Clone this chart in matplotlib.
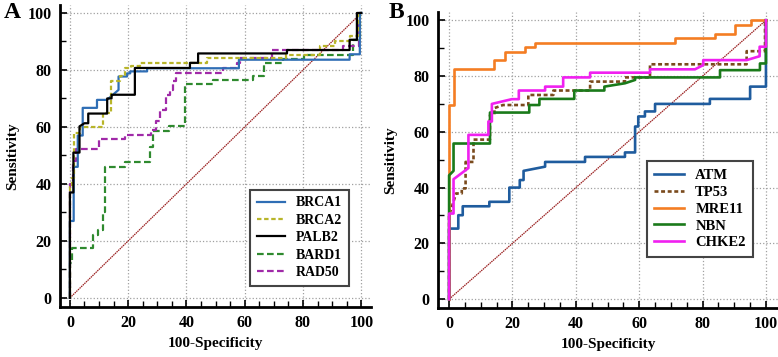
import matplotlib
matplotlib.use("Agg")
import matplotlib.pyplot as plt
from matplotlib.ticker import MultipleLocator

plt.rcParams['font.family'] = ['Liberation Serif', 'DejaVu Serif']
plt.rcParams['font.weight'] = 'bold'

# ---------- Panel A data (100-Specificity, Sensitivity) ----------
brca1_x = [0, 0, 1.3, 1.3, 2.7, 2.7, 4.4, 4.4, 9.3, 9.3, 12.7, 16.7, 16.7, 19.6, 19.6, 20.7, 20.7, 26.5, 26.5, 58, 58, 96, 96, 99.5, 99.5, 100]
brca1_y = [0, 27, 27, 46, 46, 57, 57, 66.7, 66.7, 69.5, 69.5, 73, 77.7, 77.7, 78.8, 78.8, 79.5, 79.5, 80.6, 80.6, 83.6, 83.6, 85.5, 85.5, 100, 100]

brca2_x = [0, 0, 0.6, 0.6, 1.5, 1.5, 3.3, 3.3, 11.2, 11.2, 14, 14, 17.2, 17.2, 18.8, 18.8, 21, 21, 24, 24, 47, 47, 74, 74, 86, 86, 91, 91, 96, 96, 99, 99, 100]
brca2_y = [0, 39, 39, 42, 42, 58, 58, 60, 60, 65, 65, 76.3, 76.3, 78, 78, 80.6, 80.6, 81.5, 81.5, 82.5, 82.5, 84.2, 84.2, 85.3, 85.3, 88.4, 88.4, 90, 90, 92, 92, 100, 100]

palb2_x = [0, 0, 1.2, 1.2, 3.3, 3.3, 5, 6.3, 6.3, 12.8, 12.8, 14.3, 14.3, 22.3, 22.3, 41.2, 41.2, 44, 44, 74.5, 74.5, 96, 96, 98.5, 98.5, 100]
palb2_y = [0, 37, 37, 51, 51, 60.2, 61.3, 61.3, 64.7, 64.7, 70, 70, 71.3, 71.3, 80.7, 80.7, 82.5, 82.5, 85.8, 85.8, 87, 87, 90.6, 90.6, 100, 100]

bard1_x = [0, 0, 0.7, 0.7, 8.1, 8.1, 9.8, 9.8, 11.2, 11.2, 12.2, 12.2, 19, 19, 27.5, 27.5, 28.5, 28.5, 34, 34, 39.5, 39.5, 49, 49, 63, 63, 66.5, 66.5, 73.3, 73.3, 80.2, 80.2, 97.3, 97.3, 99.5, 99.5, 100]
bard1_y = [0, 12.3, 12.3, 17.5, 17.5, 22, 22, 24, 24, 30, 30, 46, 46, 47.6, 47.6, 53, 53, 58.5, 58.5, 60.5, 60.5, 75, 75, 76.5, 76.5, 78, 78, 82.5, 82.5, 84, 84, 85.3, 85.3, 90.6, 90.6, 100, 100]

rad50_x = [0, 0, 1.2, 1.2, 2, 2, 10, 10, 19, 19, 28, 28, 29.5, 29.5, 31, 31, 33, 33, 34.2, 34.2, 35.4, 35.4, 36.5, 36.5, 52.5, 52.5, 57.3, 57.3, 58.4, 58.4, 69.3, 69.3, 93.8, 93.8, 99.3, 99.3, 100]
rad50_y = [0, 40, 40, 48, 48, 52.3, 52.3, 55.7, 55.7, 57.2, 57.2, 59, 59, 62, 62, 66, 66, 71.3, 71.3, 73, 73, 76, 76, 79, 79, 80.6, 80.6, 82.5, 82.5, 84.1, 84.1, 87, 87, 88.5, 88.5, 100, 100]

# ---------- Panel B data ----------
atm_x = [0, 0, 2.9, 2.9, 4.3, 4.3, 12.7, 12.7, 19, 19, 22.3, 22.3, 23.5, 23.5, 30.3, 30.3, 42.9, 42.9, 55.5, 55.5, 58.7, 58.7, 59.7, 59.7, 61.8, 61.8, 65, 65, 82.3, 82.3, 95, 95, 100, 100]
atm_y = [0, 25.3, 25.3, 30.1, 30.1, 33.3, 33.3, 34.9, 34.9, 40, 40, 42.7, 42.7, 46, 47.5, 49.2, 49.2, 51, 51, 52.6, 52.6, 61.9, 61.9, 65.5, 65.5, 67.3, 67.3, 70, 70, 71.8, 71.8, 76.2, 76.2, 100]

tp53_x = [0, 0, 2.2, 4, 4, 5.2, 5.2, 7.7, 7.7, 12.9, 12.9, 14.3, 14.3, 17, 25, 25, 32.9, 32.9, 44.5, 44.5, 55.5, 55.5, 63.4, 63.4, 93.9, 93.9, 99.7, 99.7]
tp53_y = [0, 30, 37.9, 37.9, 39.7, 39.7, 49.2, 49.2, 57.2, 57.2, 66, 66, 68.5, 69.6, 69.6, 73.2, 73.2, 74.8, 74.8, 78, 78, 79.5, 79.5, 84.2, 84.2, 88.9, 88.9, 100]

mre11_x = [0, 0, 1.7, 1.7, 14.3, 14.3, 17.5, 17.5, 23.8, 23.8, 27, 27, 71.3, 71.3, 84, 84, 90.2, 90.2, 95.3, 95.3, 100]
mre11_y = [0, 69.6, 69.6, 82.5, 82.5, 85.7, 85.7, 88.7, 88.7, 90.5, 90.5, 91.9, 91.9, 93.7, 93.7, 95.2, 95.2, 98.2, 98.2, 100, 100]

nbn_x = [0, 0, 1.4, 1.4, 12.9, 12.9, 25.3, 25.3, 28.5, 28.5, 39.5, 39.5, 49, 49, 55.5, 58.7, 58.7, 85.5, 85.5, 98.1, 98.1, 100, 100]
nbn_y = [0, 44.4, 46, 55.8, 55.8, 66.9, 66.9, 69.6, 69.6, 71.8, 71.8, 74.8, 74.8, 76.2, 77.4, 78.6, 79.5, 79.5, 82.1, 82.1, 84.5, 84.5, 100]

chke2_x = [0, 0, 1.4, 1.4, 6.1, 6.1, 12.4, 12.4, 13.5, 13.5, 19.8, 22, 22, 30.3, 30.3, 36, 36, 44.5, 44.5, 63.4, 63.4, 77.6, 80.2, 80.2, 93.9, 98, 98, 100, 100]
chke2_y = [0, 30.7, 30.7, 43, 47, 58.9, 58.9, 63.7, 63.7, 70, 71.7, 71.7, 74.8, 74.8, 76.2, 76.2, 79.5, 79.5, 81.2, 81.2, 82.4, 82.4, 83.9, 85.7, 85.7, 87.1, 90.5, 90.5, 100]

ticks = [0, 20, 40, 60, 80, 100]

fig = plt.figure(figsize=(7.78, 3.57), dpi=100)
axA = fig.add_axes([0.0771, 0.140, 0.400, 0.846])
axB = fig.add_axes([0.563, 0.137, 0.437, 0.829])

def style(ax, xlim, ylim):
    ax.set_xlim(*xlim)
    ax.set_ylim(*ylim)
    for s in ['top', 'right']:
        ax.spines[s].set_visible(False)
    for s in ['left', 'bottom']:
        ax.spines[s].set_linewidth(2.0)
    ax.set_xticks(ticks)
    ax.set_yticks(ticks)
    ax.xaxis.set_minor_locator(MultipleLocator(5))
    ax.yaxis.set_minor_locator(MultipleLocator(10))
    ax.tick_params(which='major', direction='in', length=5, width=1.2, labelsize=11.5, pad=6)
    ax.tick_params(which='minor', direction='in', length=4, width=1.0)
    for lab in ax.get_xticklabels() + ax.get_yticklabels():
        lab.set_fontweight('bold')
    ax.grid(True, which='major', linestyle=':', color='#a0a0a0', linewidth=0.9)
    ax.set_axisbelow(True)
    ax.set_xlabel('100-Specificity', fontsize=11, fontweight='bold', labelpad=4)
    ax.set_ylabel('Sensitivity', fontsize=11, fontweight='bold', labelpad=6)
    ax.plot([0, 100], [0, 100], color='#9a1f1f', linewidth=0.9, ls=(0, (1.2, 0.6)), zorder=2)

style(axA, (-3.4, 103.4), (-3.2, 102.8))
style(axB, (-3.5, 103.8), (-3.2, 102.9))

lw = 1.6
axA.plot(bard1_x, bard1_y, color='#2f8a2f', lw=lw, ls=(0, (3, 1.5)), label='BARD1', zorder=3)
axA.plot(rad50_x, rad50_y, color='#a02aa8', lw=lw, ls=(0, (3, 1.5)), label='RAD50', zorder=3)
axA.plot(brca1_x, brca1_y, color='#2f6eb5', lw=lw, label='BRCA1', zorder=4)
axA.plot(brca2_x, brca2_y, color='#b8b52a', lw=lw, ls=(0, (2, 1.2)), label='BRCA2', zorder=4)
axA.plot(palb2_x, palb2_y, color='black', lw=lw, label='PALB2', zorder=5)

hA, lA = axA.get_legend_handles_labels()
orderA = ['BRCA1', 'BRCA2', 'PALB2', 'BARD1', 'RAD50']
hA = [hA[lA.index(n)] for n in orderA]
legA = axA.legend(hA, orderA, loc='lower right', bbox_to_anchor=(0.952, 0.046),
                  fancybox=False, edgecolor='#444444', framealpha=1,
                  prop={'weight': 'bold', 'size': 10}, handlelength=2.0,
                  labelspacing=0.32, borderpad=0.5, handletextpad=0.8)
legA.get_frame().set_linewidth(1.5)

lwB = 1.9
axB.plot(atm_x, atm_y, color='#1f5c9e', lw=lwB, label='ATM', zorder=3)
axB.plot(tp53_x, tp53_y, color='#7a4a1c', lw=lwB, ls=(0, (1.5, 1)), label='TP53', zorder=3)
axB.plot(mre11_x, mre11_y, color='#f47d23', lw=lwB, label='MRE11', zorder=3)
axB.plot(nbn_x, nbn_y, color='#1a7a1a', lw=lwB, label='NBN', zorder=3)
axB.plot(chke2_x, chke2_y, color='#f020f0', lw=lwB, label='CHKE2', zorder=4)

legB = axB.legend(loc='lower right', bbox_to_anchor=(0.948, 0.149),
                  fancybox=False, edgecolor='#444444', framealpha=1,
                  prop={'weight': 'bold', 'size': 10.5}, handlelength=2.0,
                  labelspacing=0.25, borderpad=0.5, handletextpad=0.8)
legB.get_frame().set_linewidth(1.5)

fig.text(0.005, 0.995, 'A', fontsize=17, fontweight='bold', va='top', ha='left')
fig.text(0.500, 0.995, 'B', fontsize=17, fontweight='bold', va='top', ha='left')

fig.savefig('out.png', dpi=100)
